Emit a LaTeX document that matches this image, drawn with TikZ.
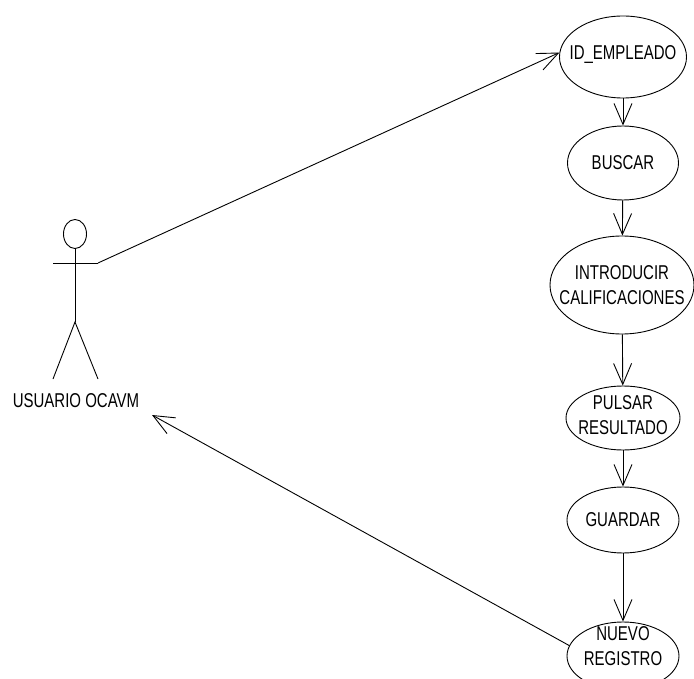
\documentclass[tikz,border=0pt]{standalone}
\usepackage{fontspec}
\setmainfont[FakeStretch=0.75]{Liberation Sans}
\usepackage{tikz}
\usetikzlibrary{arrows.meta,shapes.geometric}

\begin{document}
\begin{tikzpicture}[x=1pt,y=-1pt,line width=0.9pt,
caso/.style 2 args={ellipse,draw,minimum width=#1,minimum height=#2,inner sep=0pt},
rotulo/.style={align=center,font=\fontsize{20}{25}\selectfont,inner sep=0pt},
flecha/.style={-{Straight Barb[length=21pt,width=18pt]}}]
\useasboundingbox (0,0) rectangle (694,679);
\clip (0,0) rectangle (694,679);
\draw (75,234) ellipse [x radius=11.5,y radius=14.5];
\draw (75,248.5) -- (75,322) (53,263) -- (98,263);
\draw (53,379) -- (75,322) -- (98,379);
\coordinate (brazo) at (98,263);
\node[rotulo] (usuario) at (76,401) {USUARIO OCAVM};
\node[caso={127pt}{82pt}] (idemp) at (623,57) {};
\node[caso={111pt}{74pt}] (buscar) at (623,163) {};
\node[caso={144pt}{98pt}] (intro) at (622,285) {};
\node[caso={114pt}{64pt}] (pulsar) at (623,418) {};
\node[caso={112pt}{66pt}] (guardar) at (623,520) {};
\node[caso={112pt}{68pt}] (nuevo) at (623,656) {};
\node[rotulo] (idempt) at ([yshift=2pt]idemp.center) {ID\_EMPLEADO};
\node[rotulo] (buscart) at (buscar) {BUSCAR};
\node[rotulo] (introt) at (intro) {INTRODUCIR\\CALIFICACIONES};
\node[rotulo] (pulsart) at ([yshift=3pt]pulsar.center) {PULSAR\\RESULTADO};
\node[rotulo] (guardart) at (guardar) {GUARDAR};
\node[rotulo] (nuevot) at ([yshift=10pt]nuevo.center) {NUEVO\\REGISTRO};
\coordinate (regreso) at (152,415);
\draw[flecha] (brazo) -- (idemp.176);
\draw[flecha] (idemp) -- (buscar);
\draw[flecha] (buscar) -- (intro);
\draw[flecha] (intro) -- (pulsar);
\draw[flecha] (pulsar) -- (guardar);
\draw[flecha] (guardar) -- (nuevo);
\draw[flecha] (nuevo.169) -- (regreso);
\end{tikzpicture}
\end{document}
